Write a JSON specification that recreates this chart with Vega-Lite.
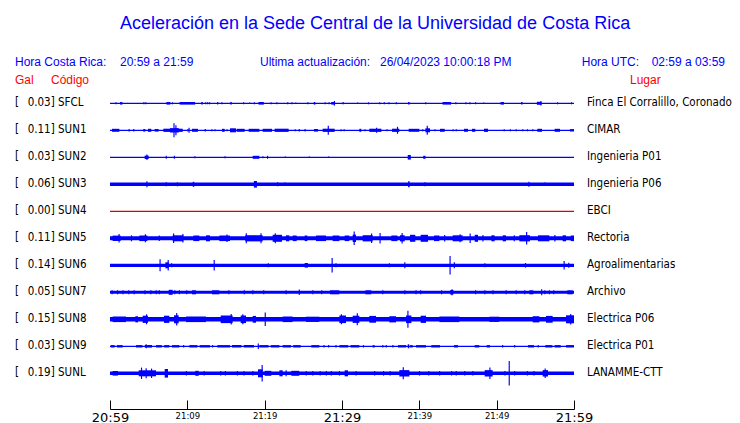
{
"$schema":"https://vega.github.io/schema/vega-lite/v6.json",
"width":464,"height":321,
"autosize":{"type":"none"},
"padding":{"left":110,"top":88,"right":166,"bottom":14},
"background":"white",
"config":{"view":{"stroke":null},"axis":{"grid":false}},
"datasets":{
"st":[
{"s":"SFCL","k":0,"gal":0.03,"base":0.65,"place":"Finca El Corralillo, Coronado"},
{"s":"SUN1","k":1,"gal":0.11,"base":0.65,"place":"CIMAR"},
{"s":"SUN2","k":2,"gal":0.03,"base":0.65,"place":"Ingenieria P01"},
{"s":"SUN3","k":3,"gal":0.06,"base":1.7,"place":"Ingenieria P06"},
{"s":"SUN4","k":4,"gal":0.00,"base":0.6,"place":"EBCI"},
{"s":"SUN5","k":5,"gal":0.11,"base":2.0,"place":"Rectoria"},
{"s":"SUN6","k":6,"gal":0.14,"base":1.6,"place":"Agroalimentarias"},
{"s":"SUN7","k":7,"gal":0.05,"base":1.5,"place":"Archivo"},
{"s":"SUN8","k":8,"gal":0.15,"base":2.3,"place":"Electrica P06"},
{"s":"SUN9","k":9,"gal":0.03,"base":0.65,"place":"Electrica P01"},
{"s":"SUNL","k":10,"gal":0.19,"base":1.8,"place":"LANAMME-CTT"}
],
"ev":[
{"s":"SFCL","t":0.7,"u":0.85,"a":1},{"s":"SFCL","t":1.3,"u":1.6,"a":1.3},{"s":"SFCL","t":4.3,"u":4.45,"a":1},{"s":"SFCL","t":4.55,"u":4.7,"a":1},{"s":"SFCL","t":7.3,"u":7.8,"a":1.3},{"s":"SFCL","t":8.0,"u":8.15,"a":1},{"s":"SFCL","t":9.0,"u":11.0,"a":1.3},{"s":"SFCL","t":11.8,"u":12.0,"a":1.3},{"s":"SFCL","t":12.3,"u":12.45,"a":1},{"s":"SFCL","t":12.55,"u":12.7,"a":1},{"s":"SFCL","t":12.8,"u":12.95,"a":1},{"s":"SFCL","t":13.85,"u":14.0,"a":1.3},{"s":"SFCL","t":14.4,"u":14.55,"a":1},{"s":"SFCL","t":15.55,"u":15.75,"a":1.3},{"s":"SFCL","t":17.2,"u":17.35,"a":1},{"s":"SFCL","t":18.0,"u":18.15,"a":0.8},{"s":"SFCL","t":18.6,"u":18.75,"a":1},{"s":"SFCL","t":19.2,"u":19.9,"a":1.3},{"s":"SFCL","t":20.75,"u":20.9,"a":1},{"s":"SFCL","t":21.5,"u":21.65,"a":1},{"s":"SFCL","t":22.9,"u":23.05,"a":1},{"s":"SFCL","t":23.45,"u":23.6,"a":1},{"s":"SFCL","t":23.95,"u":24.1,"a":0.8},{"s":"SFCL","t":25.5,"u":25.65,"a":1},{"s":"SFCL","t":26.35,"u":26.55,"a":1.3},{"s":"SFCL","t":27.75,"u":27.9,"a":1},{"s":"SFCL","t":28.25,"u":28.4,"a":1},{"s":"SFCL","t":28.6,"u":29.1,"a":1.3},{"s":"SFCL","t":28.95,"u":29.1,"a":2.3},{"s":"SFCL","t":30.05,"u":30.25,"a":1},{"s":"SFCL","t":31.95,"u":32.1,"a":0.8},{"s":"SFCL","t":33.35,"u":33.5,"a":1},{"s":"SFCL","t":34.8,"u":34.95,"a":1},{"s":"SFCL","t":35.4,"u":35.55,"a":1},{"s":"SFCL","t":36.0,"u":36.15,"a":1},{"s":"SFCL","t":36.95,"u":37.1,"a":1},{"s":"SFCL","t":38.55,"u":38.75,"a":1.3},{"s":"SFCL","t":40.75,"u":40.9,"a":1},{"s":"SFCL","t":43.0,"u":44.1,"a":1.3},{"s":"SFCL","t":44.65,"u":44.8,"a":1},{"s":"SFCL","t":45.95,"u":46.1,"a":1},{"s":"SFCL","t":46.45,"u":46.6,"a":1},{"s":"SFCL","t":47.2,"u":47.35,"a":1},{"s":"SFCL","t":48.25,"u":48.4,"a":0.8},{"s":"SFCL","t":50.5,"u":50.95,"a":1.3},{"s":"SFCL","t":53.15,"u":53.35,"a":1.3},{"s":"SFCL","t":55.2,"u":55.8,"a":1.5},{"s":"SFCL","t":55.65,"u":55.8,"a":2.3},{"s":"SFCL","t":57.8,"u":57.95,"a":1},{"s":"SFCL","t":59.6,"u":59.75,"a":1},
{"s":"SUN1","t":0.26,"u":1.21,"a":1.5},{"s":"SUN1","t":2.4,"u":2.55,"a":1.2},{"s":"SUN1","t":3.0,"u":3.15,"a":1.2},{"s":"SUN1","t":4.3,"u":4.57,"a":1.3},{"s":"SUN1","t":4.9,"u":5.34,"a":1.5},{"s":"SUN1","t":5.78,"u":6.29,"a":1.3},{"s":"SUN1","t":6.9,"u":7.76,"a":1.6},{"s":"SUN1","t":7.76,"u":8.9,"a":2.2},{"s":"SUN1","t":8.2,"u":8.35,"a":7},{"s":"SUN1","t":8.45,"u":8.6,"a":5},{"s":"SUN1","t":8.7,"u":9.4,"a":1.6},{"s":"SUN1","t":10.0,"u":10.15,"a":1.2},{"s":"SUN1","t":10.15,"u":10.3,"a":2.5},{"s":"SUN1","t":10.6,"u":11.38,"a":1.5},{"s":"SUN1","t":12.24,"u":12.4,"a":1.3},{"s":"SUN1","t":13.1,"u":13.25,"a":1},{"s":"SUN1","t":13.5,"u":13.65,"a":1},{"s":"SUN1","t":14.48,"u":14.83,"a":1.5},{"s":"SUN1","t":15.05,"u":15.2,"a":1},{"s":"SUN1","t":15.52,"u":16.29,"a":2},{"s":"SUN1","t":16.38,"u":17.41,"a":1.5},{"s":"SUN1","t":17.93,"u":19.31,"a":1.5},{"s":"SUN1","t":19.74,"u":20.95,"a":1.5},{"s":"SUN1","t":21.29,"u":23.1,"a":1.6},{"s":"SUN1","t":23.88,"u":24.03,"a":1},{"s":"SUN1","t":24.4,"u":24.55,"a":1.2},{"s":"SUN1","t":25.15,"u":25.3,"a":1.2},{"s":"SUN1","t":26.38,"u":26.9,"a":1.3},{"s":"SUN1","t":27.5,"u":29.05,"a":1.6},{"s":"SUN1","t":28.15,"u":28.3,"a":4.5},{"s":"SUN1","t":29.8,"u":29.95,"a":1},{"s":"SUN1","t":30.2,"u":30.35,"a":1},{"s":"SUN1","t":32.24,"u":32.5,"a":1.5},{"s":"SUN1","t":32.9,"u":33.05,"a":1},{"s":"SUN1","t":33.53,"u":35.09,"a":1.6},{"s":"SUN1","t":34.4,"u":34.55,"a":2.5},{"s":"SUN1","t":35.75,"u":35.9,"a":1},{"s":"SUN1","t":36.47,"u":37.41,"a":1.6},{"s":"SUN1","t":37.1,"u":37.25,"a":3.5},{"s":"SUN1","t":38.62,"u":40.0,"a":1.5},{"s":"SUN1","t":40.34,"u":40.52,"a":1},{"s":"SUN1","t":40.78,"u":41.38,"a":2},{"s":"SUN1","t":40.95,"u":41.1,"a":4.5},{"s":"SUN1","t":41.95,"u":42.1,"a":1},{"s":"SUN1","t":42.67,"u":43.28,"a":1.5},{"s":"SUN1","t":44.3,"u":44.45,"a":1},{"s":"SUN1","t":44.7,"u":44.85,"a":1},{"s":"SUN1","t":45.78,"u":46.29,"a":1.5},{"s":"SUN1","t":46.81,"u":47.24,"a":1.5},{"s":"SUN1","t":48.36,"u":48.88,"a":1.6},{"s":"SUN1","t":50.9,"u":51.05,"a":1},{"s":"SUN1","t":51.7,"u":51.85,"a":1},{"s":"SUN1","t":52.45,"u":52.6,"a":1},{"s":"SUN1","t":53.3,"u":53.45,"a":1},{"s":"SUN1","t":53.9,"u":54.05,"a":1},{"s":"SUN1","t":54.6,"u":54.75,"a":1},{"s":"SUN1","t":55.26,"u":55.86,"a":1.5},{"s":"SUN1","t":57.5,"u":58.19,"a":1.5},{"s":"SUN1","t":59.48,"u":60.0,"a":1.2},
{"s":"SUN2","t":4.48,"u":5.0,"a":1.7},{"s":"SUN2","t":4.7,"u":4.85,"a":2.7},{"s":"SUN2","t":7.2,"u":7.35,"a":1.5},{"s":"SUN2","t":8.25,"u":8.4,"a":1.5},{"s":"SUN2","t":10.9,"u":11.05,"a":1},{"s":"SUN2","t":14.8,"u":14.95,"a":1},{"s":"SUN2","t":18.45,"u":19.31,"a":1.5},{"s":"SUN2","t":19.7,"u":19.85,"a":1},{"s":"SUN2","t":20.3,"u":20.45,"a":1.5},{"s":"SUN2","t":22.6,"u":22.75,"a":0.8},{"s":"SUN2","t":25.7,"u":25.85,"a":0.8},{"s":"SUN2","t":28.2,"u":28.35,"a":0.8},{"s":"SUN2","t":38.5,"u":38.9,"a":2.3},{"s":"SUN2","t":40.5,"u":40.8,"a":1.5},
{"s":"SUN3","t":4.7,"u":4.85,"a":3},{"s":"SUN3","t":7.2,"u":7.35,"a":2},{"s":"SUN3","t":8.65,"u":8.8,"a":2},{"s":"SUN3","t":10.7,"u":10.9,"a":2.5},{"s":"SUN3","t":18.6,"u":19.0,"a":3.3},{"s":"SUN3","t":21.6,"u":21.75,"a":2},{"s":"SUN3","t":22.55,"u":22.7,"a":1.8},{"s":"SUN3","t":38.55,"u":38.75,"a":3},{"s":"SUN3","t":40.65,"u":40.8,"a":2},{"s":"SUN3","t":54.1,"u":54.25,"a":2.5},{"s":"SUN3","t":56.15,"u":56.3,"a":1.8},
{"s":"SUN5","t":0.34,"u":1.38,"a":2.7},{"s":"SUN5","t":1.1,"u":1.25,"a":4.3},{"s":"SUN5","t":2.7,"u":2.85,"a":3},{"s":"SUN5","t":3.79,"u":4.83,"a":2.8},{"s":"SUN5","t":4.5,"u":4.65,"a":4},{"s":"SUN5","t":6.3,"u":6.45,"a":2.7},{"s":"SUN5","t":8.1,"u":9.48,"a":3},{"s":"SUN5","t":8.15,"u":8.3,"a":4.7},{"s":"SUN5","t":9.35,"u":9.5,"a":4.3},{"s":"SUN5","t":10.78,"u":11.55,"a":2.8},{"s":"SUN5","t":12.41,"u":12.93,"a":3},{"s":"SUN5","t":14.14,"u":15.52,"a":2.8},{"s":"SUN5","t":15.05,"u":15.2,"a":3.7},{"s":"SUN5","t":17.5,"u":19.74,"a":3.1},{"s":"SUN5","t":17.55,"u":17.7,"a":5},{"s":"SUN5","t":19.45,"u":19.6,"a":5},{"s":"SUN5","t":21.03,"u":22.24,"a":3.5},{"s":"SUN5","t":21.3,"u":21.45,"a":5},{"s":"SUN5","t":22.76,"u":23.19,"a":3},{"s":"SUN5","t":23.62,"u":24.14,"a":2.8},{"s":"SUN5","t":25.17,"u":25.52,"a":2.8},{"s":"SUN5","t":26.64,"u":27.93,"a":2.8},{"s":"SUN5","t":28.79,"u":29.66,"a":2.8},{"s":"SUN5","t":30.34,"u":30.95,"a":2.8},{"s":"SUN5","t":31.38,"u":31.81,"a":3.7},{"s":"SUN5","t":31.5,"u":31.65,"a":6.7},{"s":"SUN5","t":32.67,"u":33.97,"a":3.1},{"s":"SUN5","t":33.75,"u":33.9,"a":4.7},{"s":"SUN5","t":34.85,"u":35.0,"a":5.3},{"s":"SUN5","t":36.38,"u":37.16,"a":2.8},{"s":"SUN5","t":37.5,"u":38.1,"a":3.1},{"s":"SUN5","t":37.7,"u":37.85,"a":5.3},{"s":"SUN5","t":38.79,"u":39.48,"a":3.5},{"s":"SUN5","t":40.17,"u":41.12,"a":3.5},{"s":"SUN5","t":41.9,"u":42.59,"a":2.8},{"s":"SUN5","t":43.2,"u":43.35,"a":3.3},{"s":"SUN5","t":44.31,"u":45.6,"a":3},{"s":"SUN5","t":45.2,"u":45.35,"a":4},{"s":"SUN5","t":46.5,"u":46.65,"a":4.7},{"s":"SUN5","t":47.16,"u":47.59,"a":3.5},{"s":"SUN5","t":48.15,"u":48.3,"a":3.3},{"s":"SUN5","t":49.31,"u":49.74,"a":3},{"s":"SUN5","t":50.78,"u":51.21,"a":3},{"s":"SUN5","t":52.2,"u":52.35,"a":3},{"s":"SUN5","t":52.93,"u":54.31,"a":3.1},{"s":"SUN5","t":53.8,"u":53.95,"a":6.3},{"s":"SUN5","t":55.34,"u":56.81,"a":3},{"s":"SUN5","t":57.45,"u":57.6,"a":3.3},{"s":"SUN5","t":58.53,"u":58.97,"a":3},{"s":"SUN5","t":59.57,"u":60.0,"a":2.8},
{"s":"SUN6","t":6.4,"u":6.55,"a":6},{"s":"SUN6","t":7.16,"u":7.59,"a":3},{"s":"SUN6","t":7.45,"u":7.6,"a":5.3},{"s":"SUN6","t":7.9,"u":8.05,"a":2},{"s":"SUN6","t":13.4,"u":13.55,"a":5.3},{"s":"SUN6","t":20.4,"u":20.55,"a":2},{"s":"SUN6","t":25.17,"u":25.6,"a":2.3},{"s":"SUN6","t":28.65,"u":28.8,"a":7.3},{"s":"SUN6","t":29.15,"u":29.3,"a":2},{"s":"SUN6","t":36.05,"u":36.2,"a":2},{"s":"SUN6","t":38.05,"u":38.2,"a":3},{"s":"SUN6","t":43.9,"u":44.05,"a":9.3},{"s":"SUN6","t":44.45,"u":44.6,"a":3},{"s":"SUN6","t":48.4,"u":48.55,"a":2},{"s":"SUN6","t":53.65,"u":53.8,"a":2.3},{"s":"SUN6","t":58.65,"u":58.8,"a":4.3},{"s":"SUN6","t":59.25,"u":59.4,"a":2.5},
{"s":"SUN7","t":0.2,"u":0.35,"a":2},{"s":"SUN7","t":0.9,"u":1.05,"a":2},{"s":"SUN7","t":1.6,"u":1.75,"a":2},{"s":"SUN7","t":2.35,"u":2.5,"a":2},{"s":"SUN7","t":3.05,"u":3.2,"a":2},{"s":"SUN7","t":4.45,"u":4.6,"a":2},{"s":"SUN7","t":5.2,"u":5.35,"a":2},{"s":"SUN7","t":5.9,"u":6.05,"a":2},{"s":"SUN7","t":6.3,"u":6.45,"a":2},{"s":"SUN7","t":7.59,"u":8.1,"a":2.5},{"s":"SUN7","t":8.3,"u":8.45,"a":2},{"s":"SUN7","t":8.9,"u":9.05,"a":2},{"s":"SUN7","t":9.85,"u":10.0,"a":2},{"s":"SUN7","t":10.6,"u":11.12,"a":2},{"s":"SUN7","t":13.19,"u":14.14,"a":2},{"s":"SUN7","t":15.3,"u":15.45,"a":2},{"s":"SUN7","t":17.3,"u":17.45,"a":2},{"s":"SUN7","t":18.4,"u":18.55,"a":2},{"s":"SUN7","t":19.8,"u":19.95,"a":2},{"s":"SUN7","t":22.7,"u":22.85,"a":2},{"s":"SUN7","t":24.4,"u":24.55,"a":2.7},{"s":"SUN7","t":26.15,"u":26.3,"a":2},{"s":"SUN7","t":27.3,"u":27.45,"a":2},{"s":"SUN7","t":28.45,"u":29.66,"a":2},{"s":"SUN7","t":33.02,"u":33.79,"a":2},{"s":"SUN7","t":35.2,"u":35.35,"a":2},{"s":"SUN7","t":38.05,"u":38.2,"a":2},{"s":"SUN7","t":39.5,"u":39.65,"a":2},{"s":"SUN7","t":40.1,"u":40.25,"a":2},{"s":"SUN7","t":42.8,"u":42.95,"a":2},{"s":"SUN7","t":44.0,"u":44.4,"a":2.3},{"s":"SUN7","t":44.15,"u":44.3,"a":3},{"s":"SUN7","t":47.2,"u":47.35,"a":2},{"s":"SUN7","t":48.4,"u":48.55,"a":2},{"s":"SUN7","t":49.45,"u":49.6,"a":2},{"s":"SUN7","t":51.15,"u":51.3,"a":2},{"s":"SUN7","t":52.45,"u":52.6,"a":2},{"s":"SUN7","t":53.55,"u":53.7,"a":2},{"s":"SUN7","t":54.22,"u":54.74,"a":2},{"s":"SUN7","t":55.75,"u":55.9,"a":3},{"s":"SUN7","t":56.15,"u":56.3,"a":2},{"s":"SUN7","t":56.75,"u":56.9,"a":2},{"s":"SUN7","t":57.3,"u":57.45,"a":2},{"s":"SUN7","t":59.14,"u":59.83,"a":2},
{"s":"SUN8","t":0.34,"u":2.07,"a":2.8},{"s":"SUN8","t":3.28,"u":3.62,"a":3.1},{"s":"SUN8","t":4.22,"u":4.91,"a":3.6},{"s":"SUN8","t":4.65,"u":4.8,"a":5},{"s":"SUN8","t":6.98,"u":7.67,"a":3.6},{"s":"SUN8","t":8.28,"u":8.88,"a":4},{"s":"SUN8","t":8.55,"u":8.7,"a":6.3},{"s":"SUN8","t":9.83,"u":12.41,"a":2.8},{"s":"SUN8","t":14.31,"u":15.86,"a":3.8},{"s":"SUN8","t":15.6,"u":15.75,"a":5.3},{"s":"SUN8","t":16.9,"u":17.59,"a":3.8},{"s":"SUN8","t":17.1,"u":17.25,"a":5},{"s":"SUN8","t":18.45,"u":18.88,"a":3.4},{"s":"SUN8","t":20.0,"u":20.15,"a":6.8},{"s":"SUN8","t":22.33,"u":23.62,"a":2.8},{"s":"SUN8","t":25.34,"u":27.07,"a":2.6},{"s":"SUN8","t":29.66,"u":30.52,"a":3.8},{"s":"SUN8","t":29.85,"u":30.0,"a":5},{"s":"SUN8","t":31.38,"u":32.24,"a":3.6},{"s":"SUN8","t":31.9,"u":32.05,"a":6},{"s":"SUN8","t":33.53,"u":34.4,"a":3.4},{"s":"SUN8","t":36.12,"u":36.98,"a":3.1},{"s":"SUN8","t":38.28,"u":38.97,"a":3.8},{"s":"SUN8","t":38.45,"u":38.6,"a":8.5},{"s":"SUN8","t":40.17,"u":40.86,"a":3.6},{"s":"SUN8","t":42.59,"u":45.17,"a":2.8},{"s":"SUN8","t":49.05,"u":50.34,"a":2.6},{"s":"SUN8","t":54.66,"u":55.52,"a":3.1},{"s":"SUN8","t":56.38,"u":57.24,"a":3.4},{"s":"SUN8","t":58.97,"u":60.0,"a":4},{"s":"SUN8","t":59.5,"u":59.65,"a":5.3},
{"s":"SUN9","t":0.09,"u":0.6,"a":1.2},{"s":"SUN9","t":0.9,"u":1.64,"a":1.2},{"s":"SUN9","t":3.36,"u":4.2,"a":1.2},{"s":"SUN9","t":4.5,"u":5.43,"a":1.3},{"s":"SUN9","t":4.6,"u":4.75,"a":2},{"s":"SUN9","t":5.95,"u":6.7,"a":1.2},{"s":"SUN9","t":7.0,"u":7.67,"a":1.2},{"s":"SUN9","t":8.02,"u":8.97,"a":1.2},{"s":"SUN9","t":9.45,"u":9.6,"a":1.2},{"s":"SUN9","t":10.26,"u":11.3,"a":1.2},{"s":"SUN9","t":11.6,"u":12.93,"a":1.2},{"s":"SUN9","t":13.2,"u":13.35,"a":1.2},{"s":"SUN9","t":13.88,"u":15.52,"a":1.2},{"s":"SUN9","t":15.78,"u":17.0,"a":1.2},{"s":"SUN9","t":17.3,"u":18.62,"a":1.2},{"s":"SUN9","t":19.1,"u":19.25,"a":2.7},{"s":"SUN9","t":19.31,"u":20.5,"a":1.2},{"s":"SUN9","t":20.8,"u":21.9,"a":1.2},{"s":"SUN9","t":22.33,"u":23.4,"a":1.2},{"s":"SUN9","t":23.7,"u":24.66,"a":1.2},{"s":"SUN9","t":26.03,"u":27.07,"a":1.2},{"s":"SUN9","t":27.6,"u":27.75,"a":1.2},{"s":"SUN9","t":28.2,"u":28.35,"a":1.2},{"s":"SUN9","t":29.15,"u":29.3,"a":1.2},{"s":"SUN9","t":29.66,"u":30.8,"a":1.2},{"s":"SUN9","t":31.1,"u":32.24,"a":1.2},{"s":"SUN9","t":32.7,"u":32.85,"a":1.2},{"s":"SUN9","t":33.97,"u":34.22,"a":1.2},{"s":"SUN9","t":35.2,"u":35.35,"a":1.2},{"s":"SUN9","t":35.65,"u":35.8,"a":1.2},{"s":"SUN9","t":36.5,"u":36.65,"a":1.2},{"s":"SUN9","t":37.24,"u":38.3,"a":1.2},{"s":"SUN9","t":38.5,"u":38.7,"a":2},{"s":"SUN9","t":38.8,"u":39.14,"a":1.2},{"s":"SUN9","t":39.57,"u":40.86,"a":1.2},{"s":"SUN9","t":41.55,"u":42.67,"a":1.2},{"s":"SUN9","t":44.48,"u":45.0,"a":1.2},{"s":"SUN9","t":47.16,"u":47.76,"a":1.2},{"s":"SUN9","t":48.71,"u":49.14,"a":1.2},{"s":"SUN9","t":50.7,"u":50.85,"a":1.2},{"s":"SUN9","t":52.25,"u":52.4,"a":1.2},{"s":"SUN9","t":54.05,"u":54.83,"a":1.2},{"s":"SUN9","t":55.3,"u":55.45,"a":1.2},{"s":"SUN9","t":56.29,"u":57.2,"a":1.2},{"s":"SUN9","t":57.5,"u":58.28,"a":1.2},{"s":"SUN9","t":58.97,"u":60.0,"a":1.2},
{"s":"SUNL","t":0.34,"u":1.03,"a":2.3},{"s":"SUNL","t":3.71,"u":5.95,"a":3},{"s":"SUNL","t":4.0,"u":4.15,"a":5.7},{"s":"SUNL","t":4.6,"u":4.75,"a":5},{"s":"SUNL","t":5.3,"u":5.45,"a":4.7},{"s":"SUNL","t":7.07,"u":7.5,"a":4.3},{"s":"SUNL","t":9.8,"u":9.95,"a":2.3},{"s":"SUNL","t":11.03,"u":11.47,"a":2.5},{"s":"SUNL","t":12.1,"u":12.25,"a":2.3},{"s":"SUNL","t":14.25,"u":14.4,"a":2.3},{"s":"SUNL","t":14.85,"u":15.0,"a":2.3},{"s":"SUNL","t":16.4,"u":16.55,"a":2.3},{"s":"SUNL","t":17.25,"u":17.4,"a":2.3},{"s":"SUNL","t":18.4,"u":18.55,"a":2.3},{"s":"SUNL","t":19.14,"u":19.74,"a":4},{"s":"SUNL","t":19.6,"u":19.75,"a":8.3},{"s":"SUNL","t":20.0,"u":20.86,"a":2.5},{"s":"SUNL","t":21.9,"u":22.33,"a":3},{"s":"SUNL","t":22.7,"u":22.85,"a":3},{"s":"SUNL","t":23.45,"u":24.48,"a":2.5},{"s":"SUNL","t":25.3,"u":25.45,"a":2.3},{"s":"SUNL","t":26.15,"u":26.3,"a":2.3},{"s":"SUNL","t":27.1,"u":27.25,"a":2.3},{"s":"SUNL","t":27.9,"u":28.05,"a":2.3},{"s":"SUNL","t":28.55,"u":28.7,"a":2.3},{"s":"SUNL","t":29.6,"u":29.75,"a":2.3},{"s":"SUNL","t":30.34,"u":30.78,"a":3},{"s":"SUNL","t":31.75,"u":31.9,"a":2.3},{"s":"SUNL","t":34.15,"u":34.3,"a":2.3},{"s":"SUNL","t":35.3,"u":35.45,"a":2.3},{"s":"SUNL","t":36.15,"u":36.3,"a":2.3},{"s":"SUNL","t":37.41,"u":38.71,"a":3.2},{"s":"SUNL","t":37.85,"u":38.0,"a":6},{"s":"SUNL","t":39.95,"u":40.1,"a":2.3},{"s":"SUNL","t":41.15,"u":41.3,"a":2.3},{"s":"SUNL","t":42.55,"u":42.7,"a":2.3},{"s":"SUNL","t":44.1,"u":44.25,"a":2.3},{"s":"SUNL","t":44.7,"u":44.85,"a":2.3},{"s":"SUNL","t":45.8,"u":45.95,"a":2.3},{"s":"SUNL","t":46.85,"u":47.0,"a":2.3},{"s":"SUNL","t":48.45,"u":49.48,"a":3.2},{"s":"SUNL","t":49.05,"u":49.2,"a":5.7},{"s":"SUNL","t":51.0,"u":51.15,"a":2.3},{"s":"SUNL","t":51.55,"u":51.7,"a":12.3},{"s":"SUNL","t":52.25,"u":52.4,"a":2.3},{"s":"SUNL","t":53.9,"u":54.05,"a":2.3},{"s":"SUNL","t":54.75,"u":54.9,"a":2.3},{"s":"SUNL","t":55.95,"u":56.64,"a":3.2},{"s":"SUNL","t":56.2,"u":56.35,"a":4.7}
]
},
"layer":[
{
"data":{"name":"st"},
"transform":[{"calculate":"datum.k - datum.base/27","as":"lo"},{"calculate":"datum.k + datum.base/27","as":"hi"}],
"mark":{"type":"rect","strokeWidth":0},
"encoding":{
"x":{"datum":0,"type":"quantitative","scale":{"domain":[0,60],"nice":false,"zero":false},
"axis":{"values":[0,5,10,15,20,25,30,35,40,45,50,55,60],"title":null,"grid":false,"domain":true,"domainColor":"black","domainWidth":1,"ticks":true,"tickSize":-9,"tickColor":"black","tickWidth":1,
"labelExpr":"datum.value % 10 == 0 ? (datum.value == 0 ? '20:59' : '21:' + (datum.value < 11 ? '0' : '') + (datum.value - 1)) : ''",
"labelFont":"DejaVu Sans","labelColor":"black","labelFontSize":{"condition":{"test":"datum.value % 30 == 0","value":13},"value":8.5},
"labelPadding":11,"labelFlush":false,"labelOverlap":false,"labelBound":false,"labelBaseline":"top"}},
"x2":{"datum":60},
"y":{"field":"lo","type":"quantitative","scale":{"domain":[-0.5667,11.322],"reverse":true,"nice":false,"zero":false},"axis":null},
"y2":{"field":"hi"},
"color":{"condition":{"test":"datum.s == 'SUN4'","value":"#e00000"},"value":"#0000ff"}
}
},
{
"data":{"name":"ev"},
"transform":[
{"lookup":"s","from":{"data":{"name":"st"},"key":"s","fields":["k"]}},
{"calculate":"datum.k - datum.a/27","as":"lo"},{"calculate":"datum.k + datum.a/27","as":"hi"}],
"mark":{"type":"rect","color":"#0000ff","strokeWidth":0},
"encoding":{
"x":{"field":"t","type":"quantitative","scale":{"domain":[0,60],"nice":false,"zero":false}},
"x2":{"field":"u"},
"y":{"field":"lo","type":"quantitative","scale":{"domain":[-0.5667,11.322],"reverse":true,"nice":false,"zero":false},"axis":null},
"y2":{"field":"hi"}
}
},
{
"data":{"name":"st"},
"mark":{"type":"text","align":"left","baseline":"middle","font":"DejaVu Sans Condensed, DejaVu Sans","fontSize":11.5,"color":"black"},
"encoding":{
"x":{"datum":-12.285,"type":"quantitative","scale":{"domain":[0,60],"nice":false,"zero":false}},
"y":{"field":"k","type":"quantitative","scale":{"domain":[-0.5667,11.322],"reverse":true,"nice":false,"zero":false},"axis":null},
"text":{"value":"["}
}
},
{
"data":{"name":"st"},
"transform":[{"calculate":"format(datum.gal,'.2f') + ']'","as":"lab"}],
"mark":{"type":"text","align":"right","baseline":"middle","font":"DejaVu Sans Condensed, DejaVu Sans","fontSize":11.5,"color":"black"},
"encoding":{
"x":{"datum":-7.15,"type":"quantitative","scale":{"domain":[0,60],"nice":false,"zero":false}},
"y":{"field":"k","type":"quantitative","scale":{"domain":[-0.5667,11.322],"reverse":true,"nice":false,"zero":false},"axis":null},
"text":{"field":"lab"}
}
},
{
"data":{"name":"st"},
"mark":{"type":"text","align":"left","baseline":"middle","font":"DejaVu Sans Condensed, DejaVu Sans","fontSize":11.5,"color":"black"},
"encoding":{
"x":{"datum":-6.72,"type":"quantitative","scale":{"domain":[0,60],"nice":false,"zero":false}},
"y":{"field":"k","type":"quantitative","scale":{"domain":[-0.5667,11.322],"reverse":true,"nice":false,"zero":false},"axis":null},
"text":{"field":"s"}
}
},
{
"data":{"name":"st"},
"mark":{"type":"text","align":"left","baseline":"middle","font":"DejaVu Sans Condensed, DejaVu Sans","fontSize":11.5,"color":"black"},
"encoding":{
"x":{"datum":61.68,"type":"quantitative","scale":{"domain":[0,60],"nice":false,"zero":false}},
"y":{"field":"k","type":"quantitative","scale":{"domain":[-0.5667,11.322],"reverse":true,"nice":false,"zero":false},"axis":null},
"text":{"field":"place"}
}
},
{
"data":{"values":[{}]},
"mark":{"type":"text","align":"center","baseline":"alphabetic","font":"Liberation Sans","fontSize":18,"color":"#0000ff"},
"encoding":{"x":{"datum":34.27,"type":"quantitative"},"y":{"datum":-2.76,"type":"quantitative"},"text":{"value":"Aceleración en la Sede Central de la Universidad de Costa Rica"}}
},
{
"data":{"values":[{}]},
"mark":{"type":"text","align":"left","baseline":"alphabetic","font":"Liberation Sans","fontSize":12,"color":"#0000ff"},
"encoding":{"x":{"datum":-12.285,"type":"quantitative"},"y":{"datum":-1.4,"type":"quantitative"},"text":{"value":"Hora Costa Rica:"}}
},
{
"data":{"values":[{}]},
"mark":{"type":"text","align":"left","baseline":"alphabetic","font":"Liberation Sans","fontSize":12,"color":"#0000ff"},
"encoding":{"x":{"datum":1.29,"type":"quantitative"},"y":{"datum":-1.4,"type":"quantitative"},"text":{"value":"20:59 a 21:59"}}
},
{
"data":{"values":[{}]},
"mark":{"type":"text","align":"left","baseline":"alphabetic","font":"Liberation Sans","fontSize":12,"color":"#0000ff"},
"encoding":{"x":{"datum":19.4,"type":"quantitative"},"y":{"datum":-1.4,"type":"quantitative"},"text":{"value":"Ultima actualización:"}}
},
{
"data":{"values":[{}]},
"mark":{"type":"text","align":"left","baseline":"alphabetic","font":"Liberation Sans","fontSize":12,"color":"#0000ff"},
"encoding":{"x":{"datum":34.91,"type":"quantitative"},"y":{"datum":-1.4,"type":"quantitative"},"text":{"value":"26/04/2023 10:00:18 PM"}}
},
{
"data":{"values":[{}]},
"mark":{"type":"text","align":"left","baseline":"alphabetic","font":"Liberation Sans","fontSize":12,"color":"#0000ff"},
"encoding":{"x":{"datum":61.0,"type":"quantitative"},"y":{"datum":-1.4,"type":"quantitative"},"text":{"value":"Hora UTC:"}}
},
{
"data":{"values":[{}]},
"mark":{"type":"text","align":"right","baseline":"alphabetic","font":"Liberation Sans","fontSize":12,"color":"#0000ff"},
"encoding":{"x":{"datum":79.53,"type":"quantitative"},"y":{"datum":-1.4,"type":"quantitative"},"text":{"value":"02:59 a 03:59"}}
},
{
"data":{"values":[{}]},
"mark":{"type":"text","align":"left","baseline":"alphabetic","font":"Liberation Sans","fontSize":12,"color":"#ff0000"},
"encoding":{"x":{"datum":-12.285,"type":"quantitative"},"y":{"datum":-0.7,"type":"quantitative"},"text":{"value":"Gal"}}
},
{
"data":{"values":[{}]},
"mark":{"type":"text","align":"left","baseline":"alphabetic","font":"Liberation Sans","fontSize":12,"color":"#ff0000"},
"encoding":{"x":{"datum":-7.63,"type":"quantitative"},"y":{"datum":-0.7,"type":"quantitative"},"text":{"value":"Código"}}
},
{
"data":{"values":[{}]},
"mark":{"type":"text","align":"left","baseline":"alphabetic","font":"Liberation Sans","fontSize":12,"color":"#ff0000"},
"encoding":{"x":{"datum":67.24,"type":"quantitative"},"y":{"datum":-0.7,"type":"quantitative"},"text":{"value":"Lugar"}}
}
]
}
